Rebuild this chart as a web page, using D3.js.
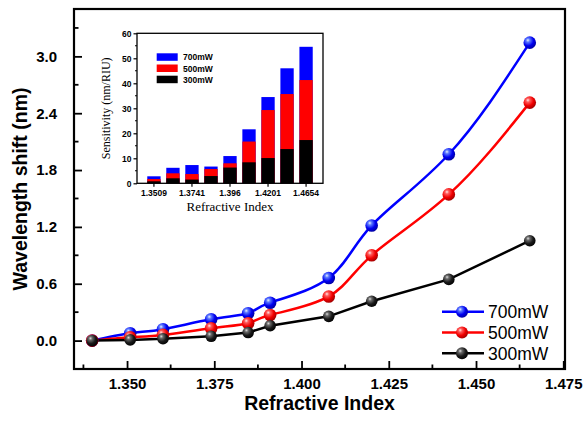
<!DOCTYPE html>
<html><head><meta charset="utf-8">
<script src="https://cdn.jsdelivr.net/npm/d3@7"></script>
<style>body{margin:0;background:#fff}svg{display:block}</style>
</head><body>
<svg id="c" width="584" height="422"></svg>
<script>
// ---- data ----
const refractiveIndex = [1.3400, 1.3509, 1.3603, 1.3741, 1.3847, 1.3910, 1.4078, 1.4201, 1.4422, 1.4654];
const shift700 = [0, 0.078, 0.12, 0.225, 0.289, 0.40, 0.66, 1.215, 1.967, 3.145];
const shift500 = [0, 0.035, 0.06, 0.13, 0.183, 0.27, 0.466, 0.90, 1.543, 2.512];
const shift300 = [0, 0.007, 0.02, 0.045, 0.085, 0.157, 0.256, 0.415, 0.646, 1.054];
const seriesNames = ["700mW", "500mW", "300mW"];
const seriesColors = ["#0000ff", "#ff0000", "#000000"];
const yTicks = [0.0, 0.6, 1.2, 1.8, 2.4, 3.0];
const xTicks = [1.350, 1.375, 1.400, 1.425, 1.450, 1.475];

const insetCategories = ["1.3509","b2","1.3741","b4","1.396","b6","1.4201","b8","1.4654"];
const insetLabels = ["1.3509","","1.3741","","1.396","","1.4201","","1.4654"];
const sens700 = [2.8, 6.2, 7.3, 6.7, 10.9, 21.6, 34.5, 46.0, 54.6];
const sens500 = [1.7, 4.0, 3.7, 5.7, 8.0, 16.7, 29.3, 35.7, 41.3];
const sens300 = [0.8, 2.0, 1.5, 2.9, 6.3, 8.4, 10.1, 13.7, 17.3];
const insetYTicks = [0, 10, 20, 30, 40, 50, 60];

const svg = d3.select("#c");
const defs = svg.append("defs");
const gradStops = {
  "#0000ff": ["#e8eeff", "#5a78ff", "#0000f0", "#00009a"],
  "#ff0000": ["#ffe8e8", "#ff5a5a", "#f00000", "#9a0000"],
  "#000000": ["#dddddd", "#6a6a6a", "#1a1a1a", "#000000"]
};
seriesColors.forEach((c, i) => {
  const g = defs.append("radialGradient").attr("id", "g" + i)
    .attr("cx", "38%").attr("cy", "35%").attr("r", "70%").attr("fx", "35%").attr("fy", "30%");
  const s = gradStops[c];
  [[0, s[0]], [0.22, s[1]], [0.6, s[2]], [1, s[3]]].forEach(([o, col]) =>
    g.append("stop").attr("offset", o).attr("stop-color", col));
});

// ---- main chart ----
const L = 74, R = 565, T = 9, B = 369;
const x = d3.scaleLinear().domain([1.3348, 1.4755]).range([L, R]);
const y = d3.scaleLinear().domain([-0.3, 3.5]).range([B, T]);
const font = "'Liberation Sans', Arial, sans-serif";

// ticks (inward)
const gx = svg.append("g").attr("transform", `translate(0,${B})`);
gx.call(d3.axisBottom(x).tickValues(xTicks).tickSize(-8).tickPadding(9).tickFormat(d3.format(".3f")));
gx.select(".domain").remove();
gx.selectAll("line").attr("stroke", "#000").attr("stroke-width", 1.8);
gx.selectAll("text").attr("font-family", font).attr("font-weight", "bold").attr("font-size", 15).attr("fill", "#000");
const xMinor = d3.range(0, 6).map(i => 1.3375 + i * 0.025);
svg.append("g").selectAll("line").data(xMinor).join("line")
  .attr("x1", d => x(d)).attr("x2", d => x(d)).attr("y1", B).attr("y2", B - 4.5)
  .attr("stroke", "#000").attr("stroke-width", 1.8);

const gy = svg.append("g").attr("transform", `translate(${L},0)`);
gy.call(d3.axisLeft(y).tickValues(yTicks).tickSize(-8).tickPadding(17).tickFormat(d3.format(".1f")));
gy.select(".domain").remove();
gy.selectAll("line").attr("stroke", "#000").attr("stroke-width", 1.8);
gy.selectAll("text").attr("font-family", font).attr("font-weight", "bold").attr("font-size", 15).attr("fill", "#000");
const yMinor = [0.3, 0.9, 1.5, 2.1, 2.7, 3.3];
svg.append("g").selectAll("line").data(yMinor).join("line")
  .attr("x1", L).attr("x2", L + 4.5).attr("y1", d => y(d)).attr("y2", d => y(d))
  .attr("stroke", "#000").attr("stroke-width", 1.8);

svg.append("rect").attr("x", L).attr("y", T).attr("width", R - L).attr("height", B - T)
  .attr("fill", "none").attr("stroke", "#000").attr("stroke-width", 2.2);

svg.append("text").attr("x", (L + R) / 2).attr("y", 410).attr("text-anchor", "middle")
  .attr("font-family", font).attr("font-weight", "bold").attr("font-size", 19.5).text("Refractive Index");
svg.append("text").attr("transform", `translate(27,${(T + B) / 2}) rotate(-90)`).attr("text-anchor", "middle")
  .attr("font-family", font).attr("font-weight", "bold").attr("font-size", 19.5).text("Wavelength shift (nm)");

const allSeries = [shift700, shift500, shift300];
const curves = [d3.curveNatural, d3.curveNatural, d3.curveLinear];
allSeries.forEach((vals, i) => {
  const pts = refractiveIndex.map((r, j) => [r, vals[j]]);
  svg.append("path").datum(pts)
    .attr("d", d3.line().x(d => x(d[0])).y(d => y(d[1])).curve(curves[i]))
    .attr("fill", "none").attr("stroke", seriesColors[i]).attr("stroke-width", 2.5);
});
allSeries.forEach((vals, i) => {
  svg.append("g").selectAll("circle").data(refractiveIndex.map((r, j) => [r, vals[j]])).join("circle")
    .attr("cx", d => x(d[0])).attr("cy", d => y(d[1])).attr("r", i === 2 ? 5.8 : 6.3)
    .attr("fill", `url(#g${i})`);
});

// legend
seriesNames.forEach((n, i) => {
  const ly = 311.7 + i * 20.8;
  svg.append("line").attr("x1", 442).attr("x2", 484).attr("y1", ly).attr("y2", ly)
    .attr("stroke", seriesColors[i]).attr("stroke-width", 2.5);
  svg.append("circle").attr("cx", 462).attr("cy", ly).attr("r", 6).attr("fill", `url(#g${i})`);
  svg.append("text").attr("x", 488).attr("y", ly + 6.3).attr("font-family", font)
    .attr("font-size", 17.5).text(n);
});

// ---- inset ----
const iL = 137, iR = 323, iT = 33.3, iB = 183.3;
const xb = d3.scaleBand().domain(insetCategories).range([iL, iR]).paddingInner(0.3).paddingOuter(0.54);
const yb = d3.scaleLinear().domain([0, 60]).range([iB, iT]);
const serif = "'Liberation Serif', 'Times New Roman', serif";

const sensSeries = [sens700, sens500, sens300];
sensSeries.forEach((vals, i) => {
  svg.append("g").selectAll("rect").data(insetCategories.map((c, j) => [c, vals[j]])).join("rect")
    .attr("x", d => xb(d[0])).attr("width", xb.bandwidth())
    .attr("y", d => yb(d[1])).attr("height", d => iB - yb(d[1]))
    .attr("fill", seriesColors[i]);
});
svg.append("rect").attr("x", iL).attr("y", iT).attr("width", iR - iL).attr("height", iB - iT)
  .attr("fill", "none").attr("stroke", "#000").attr("stroke-width", 1.3);

const iy = svg.append("g").attr("transform", `translate(${iL},0)`);
iy.call(d3.axisLeft(yb).tickValues(insetYTicks).tickSize(3.5).tickPadding(2));
iy.select(".domain").remove();
iy.selectAll("line").attr("stroke", "#000").attr("stroke-width", 1.2);
iy.selectAll("text").attr("font-family", font).attr("font-weight", "bold").attr("font-size", 8.5).attr("fill", "#000");
svg.append("g").selectAll("line").data([5, 15, 25, 35, 45, 55]).join("line")
  .attr("x1", iL - 2).attr("x2", iL).attr("y1", d => yb(d)).attr("y2", d => yb(d))
  .attr("stroke", "#000").attr("stroke-width", 1.1);

const ix = svg.append("g").attr("transform", `translate(0,${iB})`);
ix.call(d3.axisBottom(xb).tickValues(insetCategories.filter((c, j) => insetLabels[j] !== ""))
  .tickSize(3.5).tickPadding(3).tickFormat(c => insetLabels[insetCategories.indexOf(c)]));
ix.select(".domain").remove();
ix.selectAll("line").attr("stroke", "#000").attr("stroke-width", 1.2);
ix.selectAll("text").attr("font-family", font).attr("font-weight", "bold").attr("font-size", 8.5).attr("fill", "#000");

svg.append("text").attr("x", (iL + iR) / 2).attr("y", 211).attr("text-anchor", "middle")
  .attr("font-family", serif).attr("font-size", 13).text("Refractive Index");
svg.append("text").attr("transform", `translate(110,${(iT + iB) / 2}) rotate(-90)`).attr("text-anchor", "middle")
  .attr("font-family", serif).attr("font-size", 12).text("Sensitivity (nm/RIU)");

seriesNames.forEach((n, i) => {
  const by = 53.3 + i * 11.2;
  svg.append("rect").attr("x", 156.7).attr("y", by).attr("width", 21).attr("height", 7.5)
    .attr("fill", seriesColors[i]);
  svg.append("text").attr("x", 183).attr("y", by + 7).attr("font-family", font)
    .attr("font-weight", "bold").attr("font-size", 8.5).text(n);
});
</script>
</body></html>
